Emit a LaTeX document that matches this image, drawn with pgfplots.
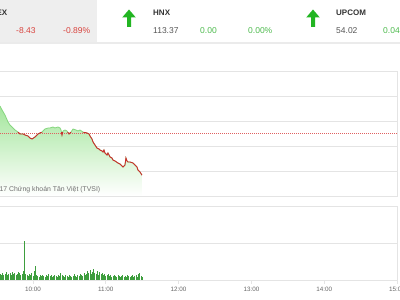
\documentclass[border=0pt]{standalone}
\usepackage{pgfplots}
\pgfplotsset{compat=1.18}
\usepackage{pgfplotstable}
\usepackage{fontspec}
\setmainfont{Liberation Sans}

\definecolor{headgray}{HTML}{EEEEEE}
\definecolor{sepgray}{HTML}{EBEBEB}
\definecolor{textdark}{HTML}{333333}
\definecolor{textnum}{HTML}{555555}
\definecolor{downred}{HTML}{D9443F}
\definecolor{upgreen}{HTML}{4DBA4D}
\definecolor{arrowgreen}{HTML}{22B522}
\definecolor{gridgray}{HTML}{E4E4E4}
\definecolor{fillgreen}{HTML}{A4E69C}
\definecolor{linegreen}{HTML}{86D67F}
\definecolor{linered}{HTML}{CC2B2B}
\definecolor{refred}{HTML}{E06060}
\definecolor{ticktext}{HTML}{666666}
\definecolor{wmgray}{HTML}{707070}
\definecolor{volgreen}{HTML}{3E9E3E}

% VN-Index intraday (minutes since midnight, index points)
\pgfplotstableread{
t v
572.8 953.0
574.5 952.2
576.9 951.2
579.4 949.8
581.0 949.2
582.7 948.8
585.2 948.2
587.6 947.8
589.3 947.4
591.8 947.4
593.4 947.2
595.9 947.0
597.5 946.6
599.2 946.4
601.6 946.8
604.1 947.4
607.4 947.8
609.9 948.4
612.4 948.6
614.0 948.6
616.5 948.8
618.1 948.6
620.6 948.8
622.3 948.6
623.1 948.2
623.9 947.2
624.7 948.0
626.4 948.2
628.0 948.0
629.7 947.4
631.3 947.8
633.0 948.4
635.4 948.2
637.1 948.0
638.7 948.2
641.2 947.8
644.5 947.6
646.2 947.4
647.0 947.0
648.6 946.4
649.5 945.8
651.1 945.2
652.7 944.6
654.4 944.4
655.2 944.2
656.9 944.0
657.7 943.8
658.5 944.2
659.3 943.6
661.0 943.2
661.8 943.6
663.5 942.8
665.1 942.6
665.9 942.2
667.6 942.0
670.0 941.6
671.7 941.4
674.2 940.8
675.8 941.2
676.6 942.6
677.5 942.0
678.3 941.8
680.0 941.8
682.4 941.6
684.1 941.2
685.7 940.8
686.5 940.2
688.2 939.8
689.8 939.17
}\price

% traded volume per minute
\pgfplotstableread{
t q
573 6
574 5
575 7
576 5
577 6
578 8
579 5
580 6
581 7
582 5
583 8
584 6
585 7
586 5
587 6
588 8
589 7
590 5
591 6
592 9
593 39
594 6
595 5
596 4
597 6
598 5
599 7
600 4
601 9
602 14
603 5
604 4
605 3
606 5
607 4
608 5
609 4
610 3
611 5
612 4
613 6
614 4
615 5
616 3
617 4
618 5
619 4
620 3
621 5
622 4
623 7
624 5
625 4
626 3
627 5
628 4
629 3
630 5
631 4
632 3
633 4
634 6
635 4
636 3
637 5
638 4
639 6
640 5
641 4
642 7
643 5
644 6
645 9
646 7
647 10
648 6
649 8
650 11
651 7
652 6
653 9
654 5
655 8
656 6
657 7
658 5
659 6
660 4
661 5
662 6
663 4
664 5
665 3
666 4
667 5
668 4
669 3
670 5
671 4
672 3
673 4
674 5
675 3
676 4
677 3
678 5
679 4
680 3
681 4
682 5
683 3
684 4
685 5
686 3
687 6
688 7
689 4
690 3
}\volume

\newcommand{\uparrowicon}[1]{%
  \fill[arrowgreen] (#1,290.5) -- (#1+6.8,282.5) -- (#1+2,282.5) -- (#1+2,273)
    -- (#1-2,273) -- (#1-2,282.5) -- (#1-6.8,282.5) -- cycle;}

\begin{document}
\begin{tikzpicture}[x=1pt,y=1pt,trim left=0pt,trim right=400pt]
\path (0,0) rectangle (400,300);

% index header
\fill[headgray] (0,258) rectangle (97,300);
\fill[sepgray] (0,256) rectangle (400,258);
\begin{scope}[every node/.style={inner sep=0pt}]
\node[anchor=east, text=textdark, font=\bfseries\fontsize{8}{9}\selectfont] at (7.5,287) {VN-INDEX};
\node[anchor=west, text=downred, font=\fontsize{8.5}{10}\selectfont] at (16,269) {-8.43};
\node[anchor=west, text=downred, font=\fontsize{8.5}{10}\selectfont] at (63,269) {-0.89\%};
\uparrowicon{129}
\node[anchor=west, text=textdark, font=\bfseries\fontsize{8}{9}\selectfont] at (153,287) {HNX};
\node[anchor=west, text=textnum, font=\fontsize{8.5}{10}\selectfont] at (153,269) {113.37};
\node[anchor=west, text=upgreen, font=\fontsize{8.5}{10}\selectfont] at (200,269) {0.00};
\node[anchor=west, text=upgreen, font=\fontsize{8.5}{10}\selectfont] at (248,269) {0.00\%};
\uparrowicon{313}
\node[anchor=west, text=textdark, font=\bfseries\fontsize{8}{9}\selectfont] at (336,287) {UPCOM};
\node[anchor=west, text=textnum, font=\fontsize{8.5}{10}\selectfont] at (336,269) {54.02};
\node[anchor=west, text=upgreen, font=\fontsize{8.5}{10}\selectfont] at (383,269) {0.04};
\end{scope}

\pgfplotsset{panel/.style={
  scale only axis, anchor=south west, width=436.8pt,
  xmin=540, xmax=900,
  axis line style={gridgray, line width=0.8pt},
  grid style={gridgray, line width=0.8pt},
  ymajorgrids, yticklabels={}, ytick style={draw=none}}}

% price panel
\begin{axis}[panel, at={(-39.8pt,104pt)}, height=125pt,
  ymin=935, ymax=960, ytick={935,940,...,960}, xtick=\empty]
\addplot[top color=fillgreen, bottom color=white, draw=none]
  table[x=t, y=v] {\price} -- (axis cs:689.8,935) -- (axis cs:572.8,935) -- cycle;
\addplot[refred, line width=0.9pt, dash pattern=on 1pt off 1pt] coordinates {(540,947.6) (900,947.6)};
\addplot[linegreen, line width=0.8pt] table[x=t, y=v] {\price};
\end{axis}

% below the reference level the line turns red
\begin{axis}[scale only axis, anchor=south west, at={(-39.8pt,104pt)}, width=436.8pt, height=63pt,
  xmin=540, xmax=900, ymin=935, ymax=947.6, clip=true,
  axis line style={draw=none}, xtick=\empty, ytick=\empty]
\addplot[linered, line width=0.9pt] table[x=t, y=v] {\price};
\end{axis}

\node[anchor=east, inner sep=0pt, text=wmgray, font=\fontsize{6.9}{8}\selectfont] at (100.5,110) {© 2017 Chứng khoán Tân Việt (TVSI)};

% volume panel
\begin{axis}[panel, at={(-39.8pt,20pt)}, height=74pt,
  ymin=0, ymax=74, ytick={37},
  xtick={600,660,720,780,840,900},
  xticklabels={10:00,11:00,12:00,13:00,14:00,15:00},
  xtick pos=bottom, tick align=outside, major tick length=4pt,
  xtick style={gridgray, line width=0.8pt},
  xticklabel style={text=ticktext, font=\fontsize{6.3}{7}\selectfont}]
\addplot[ycomb, volgreen, line width=0.85pt] table[x=t, y=q] {\volume};
\end{axis}
\end{tikzpicture}
\end{document}
